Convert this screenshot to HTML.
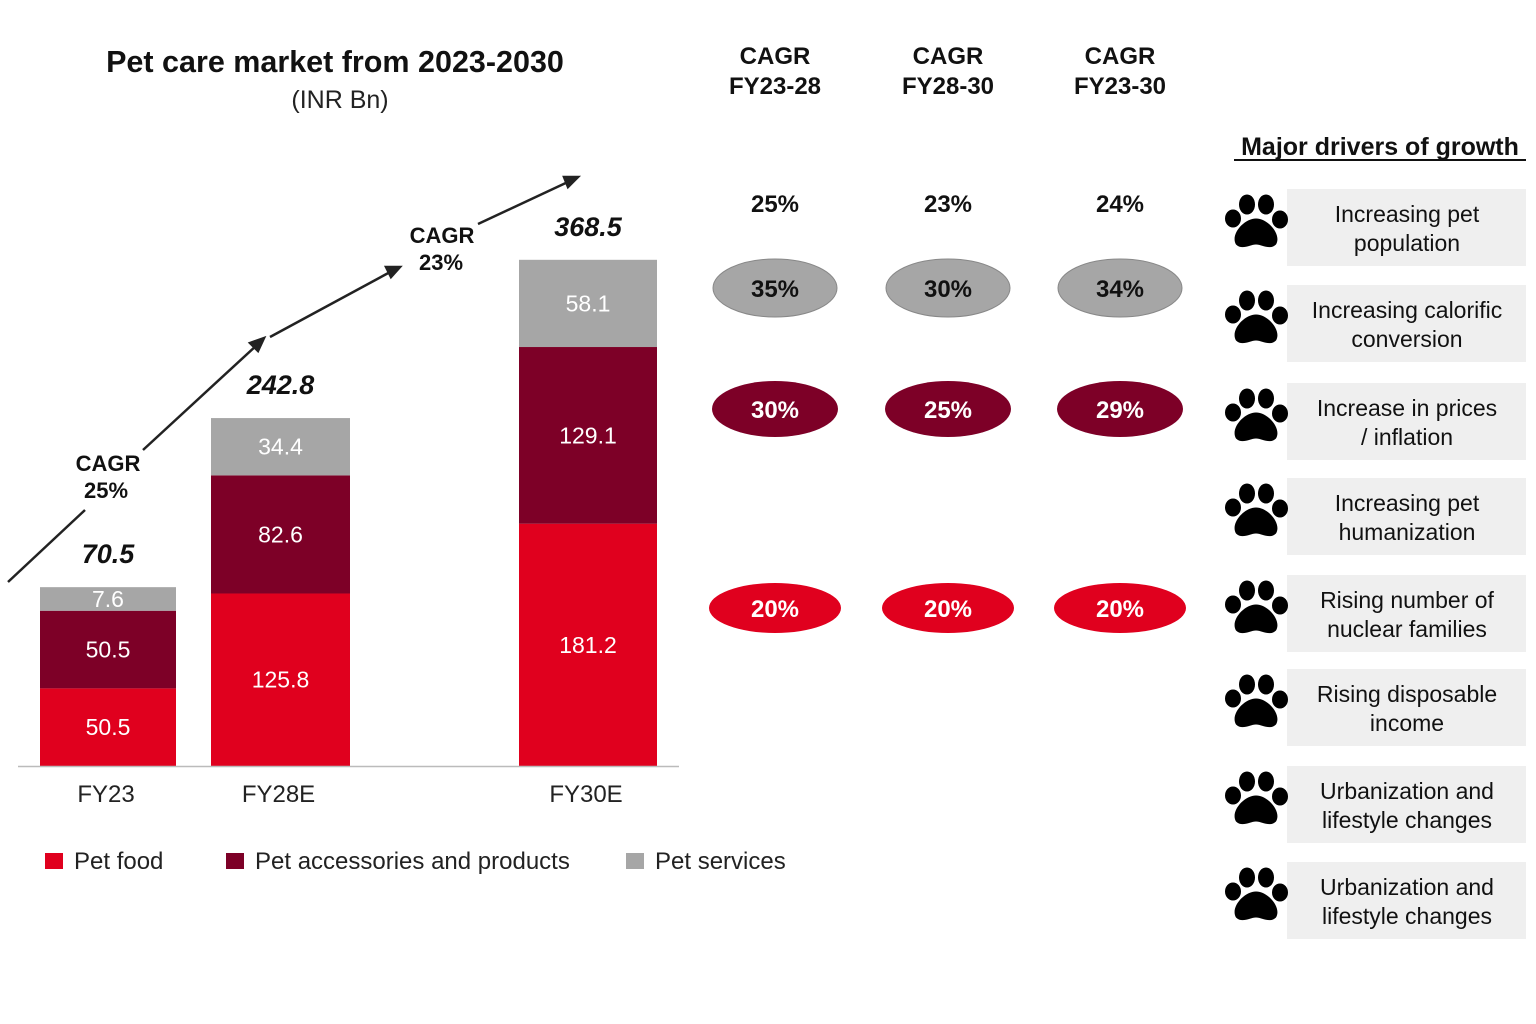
<!DOCTYPE html>
<html><head><meta charset="utf-8">
<style>
body{margin:0;background:#fff;font-family:"Liberation Sans",sans-serif;}
svg{display:block}
</style></head><body>
<svg id="chart" width="1536" height="1024" viewBox="0 0 1536 1024" xmlns="http://www.w3.org/2000/svg" font-family="Liberation Sans, sans-serif">
<text x="335" y="72" text-anchor="middle" font-size="30.5" font-weight="bold" fill="#111">Pet care market from 2023-2030</text>
<text x="340" y="108" text-anchor="middle" font-size="25" fill="#222">(INR Bn)</text>
<g id="bars"></g>
<line x1="18" y1="766.5" x2="679" y2="766.5" stroke="#bbb" stroke-width="1.5"/>
<g id="arrows" stroke="#222" stroke-width="2.5" fill="#222">
<line x1="8" y1="582" x2="85" y2="510"/>
<line x1="143" y1="450" x2="258" y2="344"/><polygon points="264,338 250,343 258,351"/>
<line x1="270" y1="337" x2="392" y2="271"/><polygon points="400,267 386,267 391,277"/>
<line x1="478" y1="224" x2="570" y2="181"/><polygon points="578,177 564,177 568,187"/>
</g>
<g font-size="22" font-weight="bold" text-anchor="middle" fill="#111">
<text x="108" y="471">CAGR</text>
<text x="106" y="498">25%</text>
<text x="442" y="243">CAGR</text>
<text x="441" y="270">23%</text>
</g>
<g id="cagr"></g>
<g id="legend"></g>
<text x="1380" y="155" text-anchor="middle" font-size="25" font-weight="bold" fill="#111">Major drivers of growth</text>
<line x1="1234" y1="160" x2="1526" y2="160" stroke="#111" stroke-width="2"/>
<g id="drivers"></g>
</svg>
<script>
const categories=["FY23","FY28E","FY30E"];
const petFood=[50.5,125.8,181.2];
const petAccessories=[50.5,82.6,129.1];
const petServices=[7.6,34.4,58.1];
const totals=["70.5","242.8","368.5"];
const cagrHeaders=[["CAGR","FY23-28"],["CAGR","FY28-30"],["CAGR","FY23-30"]];
const cagrTotal=["25%","23%","24%"];
const cagrServices=["35%","30%","34%"];
const cagrAccessories=["30%","25%","29%"];
const cagrFood=["20%","20%","20%"];
const drivers=[["Increasing pet","population"],["Increasing calorific","conversion"],["Increase in prices","/ inflation"],["Increasing pet","humanization"],["Rising number of","nuclear families"],["Rising disposable","income"],["Urbanization and","lifestyle changes"],["Urbanization and","lifestyle changes"]];

const NS="http://www.w3.org/2000/svg";
function mk(tag,attrs,parent){const e=document.createElementNS(NS,tag);for(const k in attrs)e.setAttribute(k,attrs[k]);parent.appendChild(e);return e;}
const base=766;
const segH=v=>14+v*1.26;
const xPos=i=>[40,211,519][i];
const barW=[136,139,138];
const bars=document.getElementById('bars');
const series=[[petFood,"#e0001e","#fff"],[petAccessories,"#7d0027","#fff"],[petServices,"#a6a6a6","#fff"]];
categories.forEach((c,i)=>{
  let cur=base;
  series.forEach(([arr,col,tc],s)=>{
    const v=arr[i];const bot=cur,top=cur-segH(v);
    const r=mk('rect',{x:xPos(i),y:top,width:barW[i],height:bot-top,fill:col},bars);
    
    
    const t=mk('text',{x:xPos(i)+barW[i]/2,y:(top+bot)/2+8,'text-anchor':'middle','font-size':23,fill:tc},bars);
    t.textContent=v.toFixed(1);
    
    
    cur=top;
  });
  const tt=mk('text',{x:xPos(i)+barW[i]/2,y:cur-24,'text-anchor':'middle','font-size':27,'font-weight':'bold','font-style':'italic',fill:'#111'},bars);
  tt.textContent=totals[i];
  
  
  const xl=mk('text',{x:xPos(i)+barW[i]/2-2,y:802,'text-anchor':'middle','font-size':24,fill:'#222'},bars);
  xl.textContent=c;
  
  
});
const cg=document.getElementById('cagr');
const cx=[775,948,1120];
cagrHeaders.forEach((h,i)=>{
  h.forEach((l,j)=>{const t=mk('text',{x:cx[i],y:64+j*30,'text-anchor':'middle','font-size':24,'font-weight':'bold',fill:'#111'},cg);t.textContent=l;
  
  });
  const t=mk('text',{x:cx[i],y:212,'text-anchor':'middle','font-size':24,'font-weight':'bold',fill:'#111'},cg);t.textContent=cagrTotal[i];
  
  
  [[cagrServices,288,62,29,'#a6a6a6','#111'],[cagrAccessories,409,63,28,'#7d0027','#fff'],[cagrFood,608,66,25,'#e0001e','#fff']].forEach(([arr,yy,rx,ry,f,tc],k)=>{
    const e=mk('ellipse',{cx:cx[i],cy:yy,rx:rx,ry:ry,fill:f,stroke:k==0?'#888':'none','stroke-width':1},cg);
    
    
    const t2=mk('text',{x:cx[i],y:yy+9,'text-anchor':'middle','font-size':24,'font-weight':'bold',fill:tc},cg);t2.textContent=arr[i];
    
    
  });
});
const lg=document.getElementById('legend');
[["Pet food","#e0001e",45],["Pet accessories and products","#7d0027",226],["Pet services","#a6a6a6",626]].forEach(([n,c,x])=>{
  const r=mk('rect',{x:x,y:853,width:18,height:16,fill:c},lg);
  
  
  const t=mk('text',{x:x+29,y:869,'font-size':24,fill:'#222'},lg);t.textContent=n;
  
  
});
const dg=document.getElementById('drivers');
const boxY=[189,285,383,478,575,669,766,862];
drivers.forEach((d,i)=>{
  const y0=boxY[i],h=77;
  const r=mk('rect',{x:1287,y:y0,width:239,height:h,fill:'#efefef'},dg);
  
  
  d.forEach((l,j)=>{const t=mk('text',{x:1407,y:y0+33+j*29,'text-anchor':'middle','font-size':23,fill:'#111'},dg);t.textContent=l;
  
  });
  const cy=y0+h/2-5, px=1256;
  const g=mk('g',{fill:'#000'},dg);
  
  
  mk('ellipse',{cx:px-23,cy:cy-4,rx:8,ry:9},g);
  mk('ellipse',{cx:px-9,cy:cy-18,rx:8,ry:10},g);
  mk('ellipse',{cx:px+10,cy:cy-18,rx:8,ry:10},g);
  mk('ellipse',{cx:px+24,cy:cy-3,rx:8,ry:9},g);
  mk('path',{d:`M${px-20} ${cy+22} C${px-26} ${cy+12} ${px-12} ${cy-4} ${px} ${cy-4} C${px+12} ${cy-4} ${px+26} ${cy+12} ${px+20} ${cy+22} C${px+14} ${cy+28} ${px+6} ${cy+22} ${px} ${cy+22} C${px-6} ${cy+22} ${px-14} ${cy+28} ${px-20} ${cy+22} Z`},g);
});
</script>
</body></html>
